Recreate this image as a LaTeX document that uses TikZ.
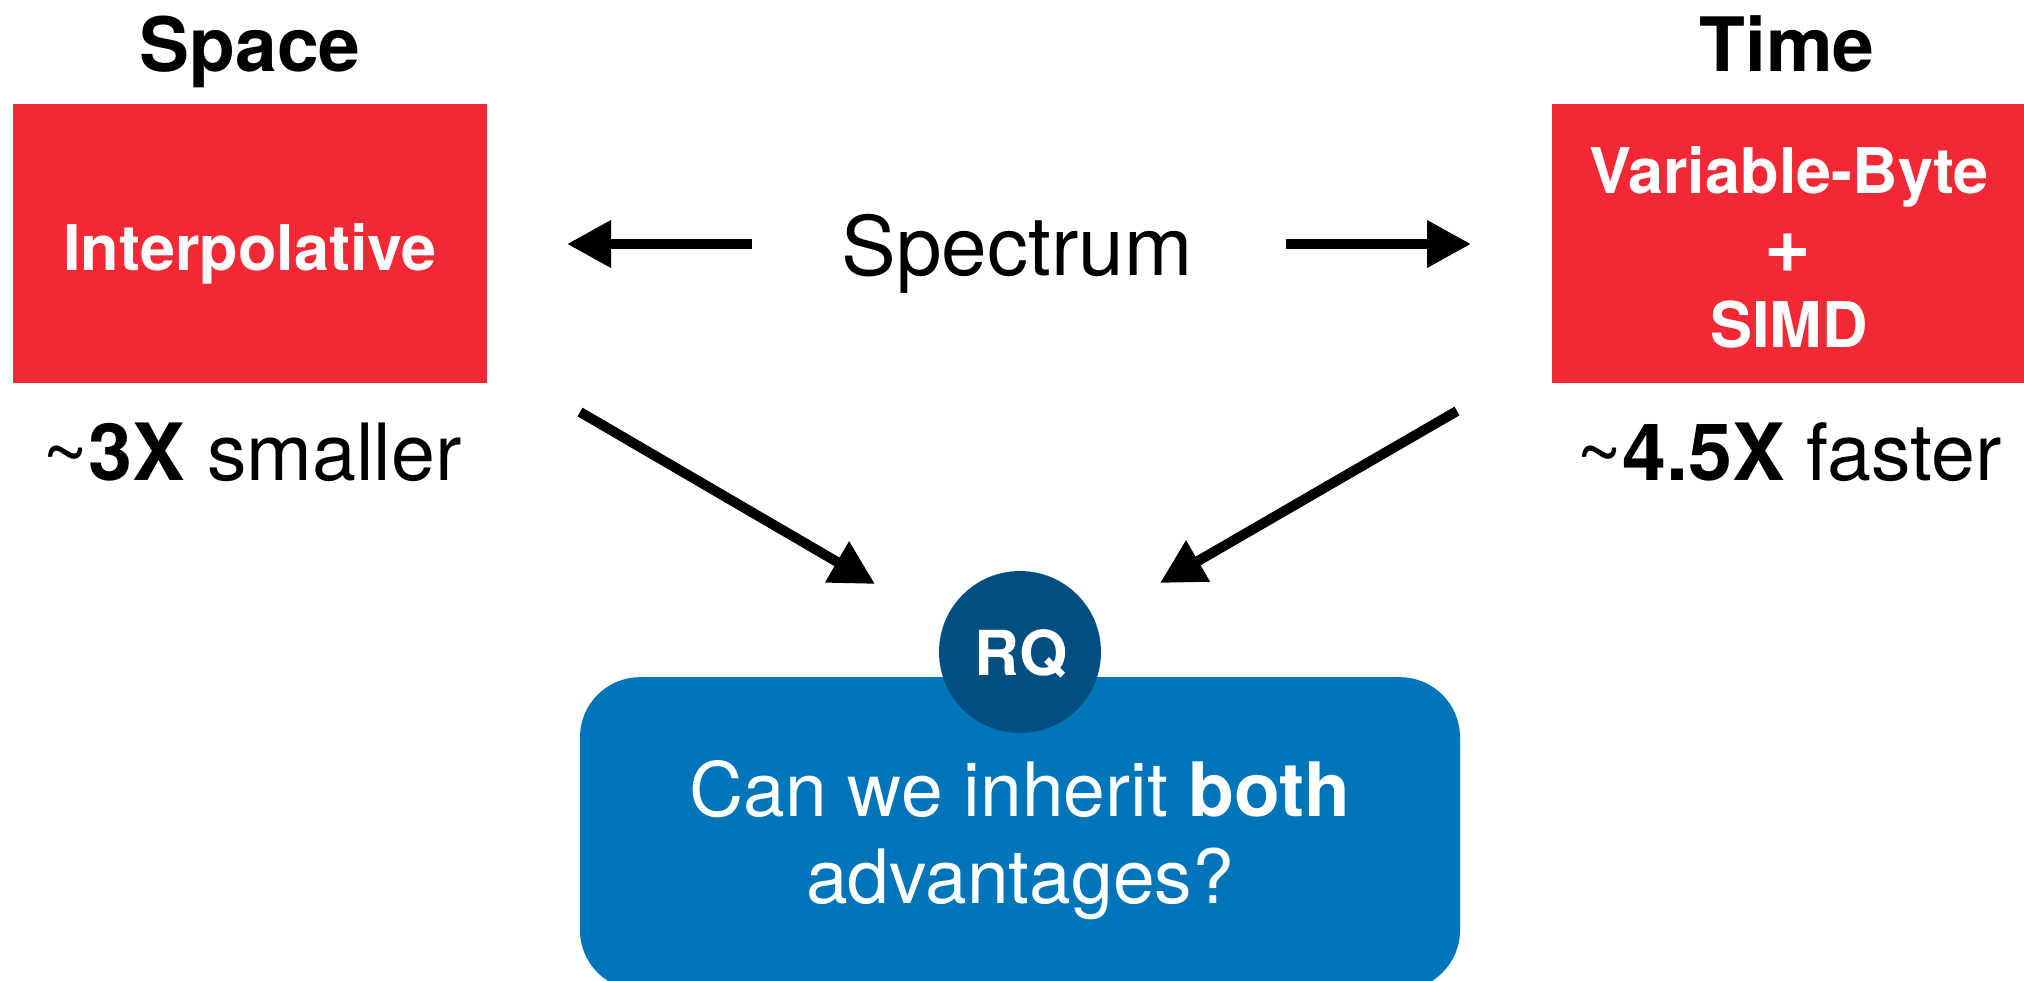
\documentclass[tikz,border=0pt]{standalone}
\usepackage{fontspec}
\setmainfont{TeX Gyre Heros}
\usetikzlibrary{arrows.meta}
\definecolor{boxred}{RGB}{243,40,53}
\definecolor{rqblue}{RGB}{1,117,186}
\definecolor{rqdark}{RGB}{3,78,128}

\begin{document}
\begin{tikzpicture}[x=1pt,y=-1pt,
  lbl/.style={anchor=base,inner sep=0pt,outer sep=0pt},
  fs/.style={font=\fontsize{#1}{#1}\selectfont},
  redbox/.style={fill=boxred,draw=none,inner sep=0pt,anchor=north west,
                 minimum width=474pt,minimum height=279pt},
  arr/.style={line width=10pt,-{Triangle[length=44pt,width=45pt]}}]

\useasboundingbox (0,0) rectangle (2024,980);

% column headings
\node[lbl,fs=75] (space) at (250,71) {\bfseries Space};
\node[lbl,fs=75] (time)  at (1787,71) {\bfseries Time};

% the two codecs
\node[redbox] (interp) at (13,104) {};
\node[redbox,minimum width=480pt] (vbyte) at (1552,104) {};
\node[lbl,fs=63,white] (interpT) at (250,270) {\bfseries Interpolative};
\node[lbl,fs=63,white] (vbT1) at (1789,193) {\bfseries Variable-Byte};
\node[inner sep=0pt,outer sep=0pt,fs=80,white] (vbT2) at (1788,253) {\bfseries +};
\node[lbl,fs=63,white] (vbT3) at (1789,347) {\bfseries SIMD};

% trade-off figures
\node[lbl,fs=79] (small) at (252,480) {\textasciitilde\textbf{3X} smaller};
\node[lbl,fs=79] (fast)  at (1789,480) {\textasciitilde\textbf{4.5X} faster};

% spectrum label and its arrows
\node[lbl,fs=82] (spec) at (1017,275) {Spectrum};
\coordinate (sl0) at (752,244);
\coordinate (sl1) at (567,244);
\coordinate (sr0) at (1286,244);
\coordinate (sr1) at (1471,244);
\draw[arr] (sl0) -- (sl1);
\draw[arr] (sr0) -- (sr1);

% research question
\node[fill=rqblue,draw=none,rounded corners=60pt,inner sep=0pt,anchor=north,
      minimum width=880pt,minimum height=313pt] (qbox) at (1020,677) {};
\node[circle,fill=rqdark,draw=none,inner sep=0pt,minimum size=162pt] (rq) at (1020,652) {};
\node[lbl,fs=62,white] (rqT) at (1021,675) {\bfseries RQ};
\node[lbl,fs=75,white] (q1) at (1020,816) {Can we inherit \textbf{both}};
\node[lbl,fs=75,white] (q2) at (1020,903) {advantages?};

% converging arrows
\coordinate (dl0) at (580,412);
\coordinate (dl1) at (875,584);
\coordinate (dr0) at (1457,411);
\coordinate (dr1) at (1160,583);
\draw[arr] (dl0) -- (dl1);
\draw[arr] (dr0) -- (dr1);
\end{tikzpicture}
\end{document}
